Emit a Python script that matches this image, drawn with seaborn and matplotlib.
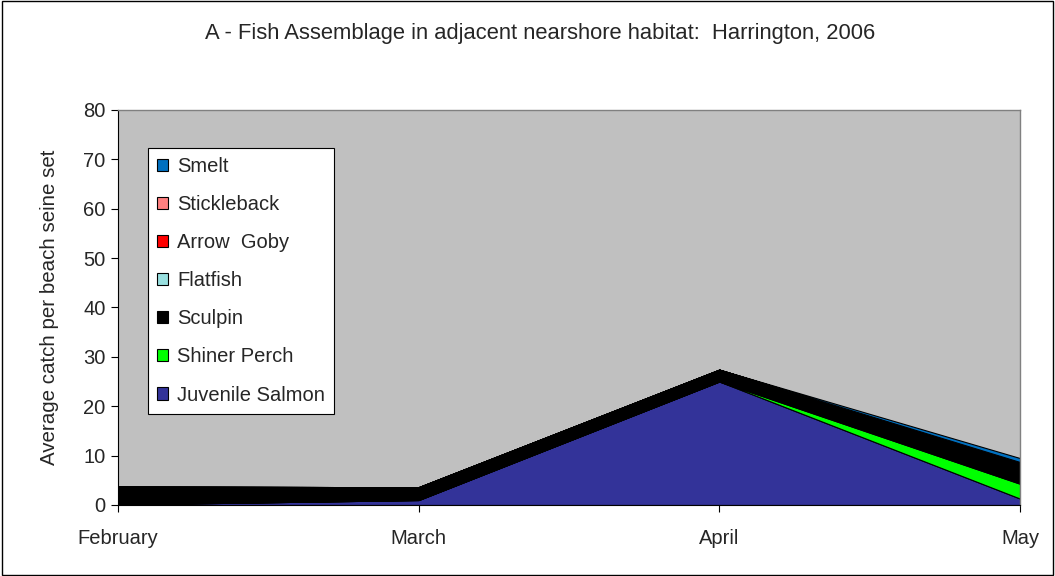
import matplotlib
matplotlib.use("Agg")
import matplotlib.pyplot as plt
from matplotlib.patches import Patch
import seaborn as sns

months = ["February", "March", "April", "May"]
# stacked bottom -> top
species = ["Juvenile Salmon", "Shiner Perch", "Sculpin", "Flatfish",
           "Arrow  Goby", "Stickleback", "Smelt"]
juvenile_salmon = [0.1, 1.0, 25.0, 1.3]
shiner_perch = [0.0, 0.0, 0.0, 3.0]
sculpin = [3.6, 2.6, 2.4, 4.4]
flatfish = [0.0, 0.0, 0.0, 0.0]
arrow_goby = [0.0, 0.0, 0.0, 0.0]
stickleback = [0.0, 0.0, 0.0, 0.0]
smelt = [0.0, 0.0, 0.0, 0.8]
colors = ["#333399", "#00FF00", "#000000", "#99E0E0",
          "#FF0000", "#FF8080", "#0070C0"]

sns.set_style("white")
plt.rcParams["font.family"] = ["Liberation Sans", "DejaVu Sans"]

fig = plt.figure(figsize=(10.55, 5.76), dpi=100)
ax = fig.add_axes([0.1118, 0.1233, 0.855, 0.686])
ax.set_facecolor("#C0C0C0")

series = [juvenile_salmon, shiner_perch, sculpin, flatfish,
          arrow_goby, stickleback, smelt]
x = list(range(len(months)))
ax.stackplot(x, *series, colors=colors, edgecolor="black", linewidth=0.8)

ax.set_xlim(0, len(months) - 1)
ax.set_ylim(0, 80)
ax.set_yticks(range(0, 81, 10))
ax.set_xticks(x)
ax.set_xticklabels(months)
ax.tick_params(axis="both", direction="out", length=5, width=0.8,
               labelsize=14.5, color="black", bottom=True, left=True)
ax.tick_params(axis="x", pad=12)
ax.tick_params(axis="y", pad=4)
ax.set_ylabel("Average catch per beach seine set", fontsize=14.8, labelpad=17)

for side in ["top", "right"]:
    ax.spines[side].set_color("#808080")
    ax.spines[side].set_linewidth(1.0)
for side in ["left", "bottom"]:
    ax.spines[side].set_color("black")
    ax.spines[side].set_linewidth(0.8)

handles = [Patch(facecolor=c, edgecolor="black", linewidth=0.8)
           for c in colors[::-1]]
leg = ax.legend(handles, species[::-1], loc="upper left",
                bbox_to_anchor=(0.033, 0.904), fontsize=14.5,
                frameon=True, fancybox=False, framealpha=1,
                labelspacing=0.95, handlelength=0.55, handleheight=0.55,
                handletextpad=0.45, borderpad=0.45, borderaxespad=0)
leg.get_frame().set_edgecolor("black")
leg.get_frame().set_linewidth(0.8)
leg.get_frame().set_facecolor("white")

fig.text(0.512, 0.942, "A - Fish Assemblage in adjacent nearshore habitat:  Harrington, 2006",
         ha="center", va="center", fontsize=15.8)

fig.patches.append(plt.Rectangle((0.0015, 0.002), 0.997, 0.996,
                                 transform=fig.transFigure, fill=False,
                                 edgecolor="black", linewidth=1.0))

fig.savefig("out.png", dpi=100, facecolor="white")
